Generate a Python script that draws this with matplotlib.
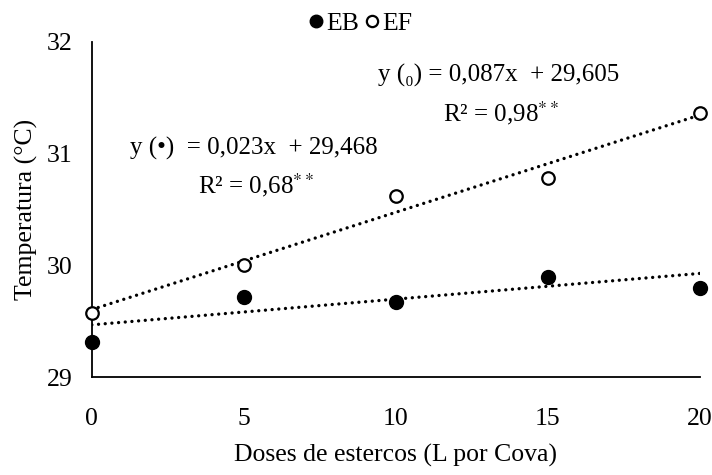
import numpy as np
import matplotlib.pyplot as plt

plt.rcParams['font.family'] = ['Liberation Serif', 'DejaVu Serif']
plt.rcParams['mathtext.fontset'] = 'stix'

doses = [0, 5, 10, 15, 20]
eb = [29.31, 29.72, 29.67, 29.90, 29.80]
ef = [29.57, 30.00, 30.62, 30.78, 31.36]
eb_coef = (0.023, 29.468)
ef_coef = (0.087, 29.605)
yticks = [29, 30, 31, 32]
xticks = [0, 5, 10, 15, 20]

W, H = 712, 475


def px(fig, x, y, s, **kw):
    # place text at pixel coords measured from the top-left corner
    fig.text(x / W, 1 - y / H, s, fontsize=18, va='center', **kw)


def main():
    fig = plt.figure(figsize=(W / 100, H / 100), dpi=100)
    ax = fig.add_axes([0.129, 0.206, 0.854, 0.706])

    x = np.array(doses)
    dots = (0, (0.01, 2.0))
    ax.plot(x, eb_coef[0] * x + eb_coef[1], color='black', linestyle=dots,
            linewidth=2.4, dash_capstyle='round')
    ax.plot(x, ef_coef[0] * x + ef_coef[1], color='black', linestyle=dots,
            linewidth=2.4, dash_capstyle='round')

    ax.plot(doses, eb, 'o', color='black', markersize=10, clip_on=False,
            zorder=5, label='EB')
    ax.plot(doses, ef, 'o', markerfacecolor='white', markeredgecolor='black',
            markeredgewidth=1.6, markersize=9, clip_on=False, zorder=5, label='EF')

    ax.set_xlim(0, 20)
    ax.set_ylim(29, 32)
    ax.set_xticks(xticks)
    ax.set_yticks(yticks)
    ax.tick_params(length=0, labelsize=18.5)
    ax.tick_params(axis='x', pad=22)
    ax.tick_params(axis='y', pad=14)
    ax.spines['right'].set_color('none')
    ax.spines['top'].set_color('none')
    ax.spines['left'].set_linewidth(1.3)
    ax.spines['bottom'].set_linewidth(1.3)

    ax.set_xlabel('Doses de estercos (L por Cova)', fontsize=18.5, labelpad=10)
    ax.set_ylabel('Temperatura (°C)', fontsize=18.5, labelpad=6)

    ax.legend(loc='lower center', bbox_to_anchor=(0.44, 0.99), ncol=2, frameon=False,
              fontsize=18.5, handletextpad=0.0, columnspacing=0.1, handlelength=0.8,
              borderaxespad=0, markerscale=0.9)

    px(fig, 378, 75, 'y (\u2080) = 0,087x  + 29,605')
    px(fig, 443, 113, 'R² = 0,98$^{**}$')
    px(fig, 130, 148, 'y (•)  = 0,023x  + 29,468')
    px(fig, 198, 185, 'R² = 0,68$^{**}$')

    fig.savefig('out.png', dpi=100)


if __name__ == '__main__':
    main()
